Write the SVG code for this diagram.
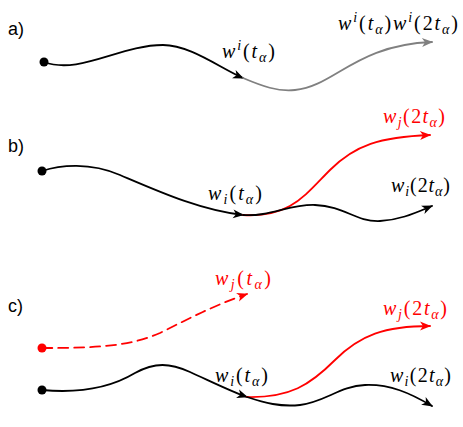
<svg xmlns="http://www.w3.org/2000/svg" width="463" height="427" viewBox="0 0 463 427">
<style>
.c{fill:none;stroke-width:1.8;stroke-linecap:round}
.k{stroke:#000}
.g{stroke:#808080}
.r{stroke:#ff0000}
.m{font-family:"Liberation Serif","DejaVu Serif",serif;font-size:20px}
.it{font-style:italic}
.sm{font-size:14px}
.lab{font-family:"Liberation Sans",Arial,sans-serif;font-size:18px;fill:#000}
</style>
<defs>
<marker id="ak" viewBox="-11 -5 12 10" refX="0" refY="0" markerWidth="12" markerHeight="10" markerUnits="userSpaceOnUse" orient="auto"><path d="M1,0 L-10,-4.5 L-7,0 L-10,4.5 Z" fill="#000"/></marker>
<marker id="ag" viewBox="-11 -5 12 10" refX="0" refY="0" markerWidth="12" markerHeight="10" markerUnits="userSpaceOnUse" orient="auto"><path d="M1,0 L-10,-4.5 L-7,0 L-10,4.5 Z" fill="#808080"/></marker>
<marker id="ar" viewBox="-11 -5 12 10" refX="0" refY="0" markerWidth="12" markerHeight="10" markerUnits="userSpaceOnUse" orient="auto"><path d="M1,0 L-10,-4.5 L-7,0 L-10,4.5 Z" fill="#ff0000"/></marker>
</defs>
<g id="connectors">
<path class="c k" d="M44,62 C80,75 120,45 163,45 C190,45 220,68 243,78" marker-end="url(#ak)"/>
<path class="c g" d="M243,78 C262,86 278,92 295,90 C335,86 355,45 432,42" marker-end="url(#ag)"/>
<path class="c k" d="M42,171 C60,165 90,162 120,175 C160,192 200,210 243,215" marker-end="url(#ak)"/>
<path class="c r" d="M243,215 C290,218 305,195 330,170 C355,145 380,137 430,135" marker-end="url(#ar)"/>
<path class="c k" d="M243,215 C270,217 290,204 315,205 C345,206 355,222 380,221 C400,220 415,213 432,206" marker-end="url(#ak)"/>
<path class="c r" d="M42,348 C100,348 130,346 160,333 C190,318 215,305 247,294" stroke-dasharray="10,6" marker-end="url(#ar)"/>
<path class="c k" d="M42,390 C85,394 115,385 135,373 C155,362 170,363 190,372 C210,381 230,391 247,397" marker-end="url(#ak)"/>
<path class="c r" d="M247,397 C290,398 310,385 335,360 C360,335 385,326 430,326" marker-end="url(#ar)"/>
<path class="c k" d="M247,397 C265,403 280,407 300,405 C325,402 340,386 365,385 C390,384 410,393 432,406" marker-end="url(#ak)"/>
</g>
<g id="panel-a">
<text class="lab" x="8" y="35">a)</text>
<circle id="a-start" cx="44" cy="62" r="4.5" fill="#000"/>
<text id="a-l1" class="m" x="222" y="58" textLength="53" lengthAdjust="spacing"><tspan class="it">w</tspan><tspan class="it sm" dy="-8">i</tspan><tspan dy="8">(</tspan><tspan class="it">t</tspan><tspan class="it sm" dy="4">α</tspan><tspan dy="-4">)</tspan></text>
<text id="a-l2" class="m" x="338" y="30" textLength="120" lengthAdjust="spacing"><tspan class="it">w</tspan><tspan class="it sm" dy="-8">i</tspan><tspan dy="8">(</tspan><tspan class="it">t</tspan><tspan class="it sm" dy="4">α</tspan><tspan dy="-4">)</tspan><tspan class="it">w</tspan><tspan class="it sm" dy="-8">i</tspan><tspan dy="8">(2</tspan><tspan class="it">t</tspan><tspan class="it sm" dy="4">α</tspan><tspan dy="-4">)</tspan></text>
</g>
<g id="panel-b">
<text class="lab" x="8" y="152">b)</text>
<circle id="b-start" cx="42" cy="171" r="4.5" fill="#000"/>
<text id="b-l1" class="m" x="208" y="200" textLength="54" lengthAdjust="spacing"><tspan class="it">w</tspan><tspan class="it sm" dy="4">i</tspan><tspan dy="-4">(</tspan><tspan class="it">t</tspan><tspan class="it sm" dy="4">α</tspan><tspan dy="-4">)</tspan></text>
<text id="b-l2" class="m" x="383" y="123" fill="#ff0000" textLength="62" lengthAdjust="spacing"><tspan class="it">w</tspan><tspan class="it sm" dy="4">j</tspan><tspan dy="-4">(2</tspan><tspan class="it">t</tspan><tspan class="it sm" dy="4">α</tspan><tspan dy="-4">)</tspan></text>
<text id="b-l3" class="m" x="391" y="192" textLength="59" lengthAdjust="spacing"><tspan class="it">w</tspan><tspan class="it sm" dy="4">i</tspan><tspan dy="-4">(2</tspan><tspan class="it">t</tspan><tspan class="it sm" dy="4">α</tspan><tspan dy="-4">)</tspan></text>
</g>
<g id="panel-c">
<text class="lab" x="8" y="312">c)</text>
<circle id="c-start-j" cx="42" cy="348" r="4.5" fill="#ff0000"/>
<circle id="c-start-i" cx="42" cy="390" r="4.5" fill="#000"/>
<text id="c-l0" class="m" x="215" y="285" fill="#ff0000" textLength="56" lengthAdjust="spacing"><tspan class="it">w</tspan><tspan class="it sm" dy="4">j</tspan><tspan dy="-4">(</tspan><tspan class="it">t</tspan><tspan class="it sm" dy="4">α</tspan><tspan dy="-4">)</tspan></text>
<text id="c-l1" class="m" x="215" y="382" textLength="53" lengthAdjust="spacing"><tspan class="it">w</tspan><tspan class="it sm" dy="4">i</tspan><tspan dy="-4">(</tspan><tspan class="it">t</tspan><tspan class="it sm" dy="4">α</tspan><tspan dy="-4">)</tspan></text>
<text id="c-l2" class="m" x="383" y="315" fill="#ff0000" textLength="64" lengthAdjust="spacing"><tspan class="it">w</tspan><tspan class="it sm" dy="4">j</tspan><tspan dy="-4">(2</tspan><tspan class="it">t</tspan><tspan class="it sm" dy="4">α</tspan><tspan dy="-4">)</tspan></text>
<text id="c-l3" class="m" x="390" y="382" textLength="61" lengthAdjust="spacing"><tspan class="it">w</tspan><tspan class="it sm" dy="4">i</tspan><tspan dy="-4">(2</tspan><tspan class="it">t</tspan><tspan class="it sm" dy="4">α</tspan><tspan dy="-4">)</tspan></text>
</g>
</svg>
